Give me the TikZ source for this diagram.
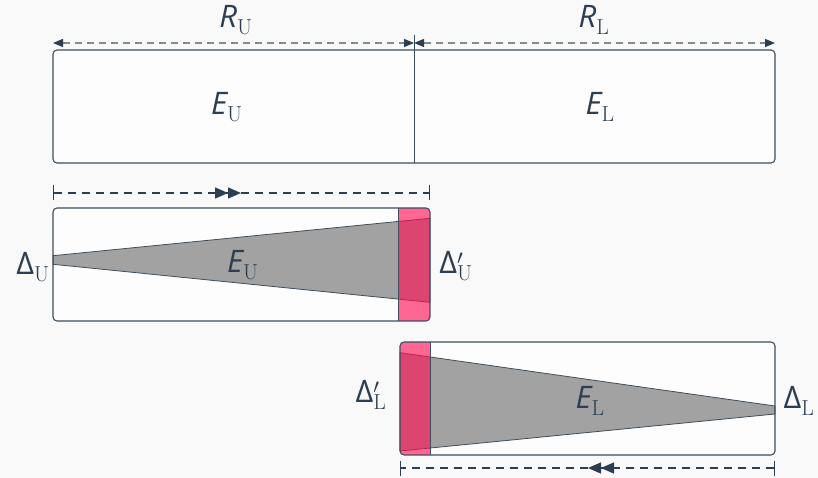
\documentclass[tikz,border=0pt]{standalone}
\usepackage{fontspec}
\newfontfamily\osans{Open Sans}
\usetikzlibrary{arrows.meta}
\definecolor{bgc}{HTML}{F9F9F9}
\definecolor{ink}{HTML}{2C3E50}
\definecolor{edge}{HTML}{3D4F5C}
\definecolor{dgray}{HTML}{7F8C8D}
\definecolor{pinkc}{RGB}{255,12,80}
\definecolor{trig}{HTML}{A2A2A2}
\newcommand{\lbl}[2]{{\osans\itshape #1}$_{\mathrm{#2}}$}
\newcommand{\dlt}[2]{{\osans Δ}$#1_{\mathrm{#2}}$}
\tikzset{
  box/.style={draw=edge, line width=1.1pt, rounded corners=4pt, fill=white!60!bgc},
  tri/.style={fill=trig, draw=edge, line width=0.8pt},
  pinkbar/.style={fill=pinkc, fill opacity=0.62},
  sep/.style={draw=edge, line width=1pt},
  rdim/.style={dgray, dash pattern=on 7pt off 5pt, line width=1.3pt},
  mdim/.style={ink, dash pattern=on 8pt off 6pt, line width=1.3pt},
  txt/.style={text=ink, font=\fontsize{31}{36}\selectfont, inner sep=0pt},
}
\begin{document}
\begin{tikzpicture}[x=1pt,y=-1pt]
\useasboundingbox[fill=bgc] (0,0) rectangle (818,478);
% ---------- top box ----------
\draw[box] (53,50) rectangle (775,163);
\coordinate (tl) at (53,43);
\coordinate (tm) at (414,43);
\coordinate (tr) at (775,43);
\coordinate (dvtop) at (414,35);
\coordinate (dvbot) at (414,163);
\draw[sep] (dvtop) -- (dvbot);
\draw[rdim, {Triangle[length=10pt,width=8pt,fill=ink,color=ink]}-{Triangle[length=10pt,width=8pt,fill=ink,color=ink]}] (tl) -- (tm);
\draw[rdim, {Triangle[length=10pt,width=8pt,fill=ink,color=ink]}-{Triangle[length=10pt,width=8pt,fill=ink,color=ink]}] (tm) -- (tr);
\node[txt] (RU) at (236,20) {\lbl{R}{U}};
\node[txt] (RL) at (594,20) {\lbl{R}{L}};
\node[txt] (EU1) at (227,107) {\lbl{E}{U}};
\node[txt] (EL1) at (600,107) {\lbl{E}{L}};
% ---------- middle box ----------
\fill[white!60!bgc, rounded corners=4pt] (53,208) rectangle (430,321);
\draw[tri] (53,255.7) -- (430,218.3) -- (430,302.3) -- (53,264.3) -- cycle;
\begin{scope}
  \clip[rounded corners=4pt] (53,208) rectangle (430,321);
  \fill[pinkbar] (398,208) rectangle (430,321);
\end{scope}
\draw[sep] (398,208) -- (398,321);
\draw[box, fill=none] (53,208) rectangle (430,321);
\coordinate (ml) at (53,193);
\coordinate (mm) at (241,193);
\coordinate (mr) at (430,193);
\draw[mdim, {Bar[width=15pt]}-{Triangle[length=13pt,width=11pt,fill=ink,color=ink]Triangle[length=13pt,width=11pt,fill=ink,color=ink]}] (ml) -- (mm);
\draw[mdim, -{Bar[width=15pt]}] (mm) -- (mr);
\node[txt] (DU) at (33,267) {\dlt{}{U}};
\node[txt] (DUp) at (456,266) {\dlt{'}{U}};
\node[txt] (EU2) at (243,265) {\lbl{E}{U}};
% ---------- bottom box ----------
\fill[white!60!bgc, rounded corners=4pt] (400,342) rectangle (775,455);
\draw[tri] (400,352.7) -- (775,406) -- (775,414) -- (400,451) -- cycle;
\begin{scope}
  \clip[rounded corners=4pt] (400,342) rectangle (775,455);
  \fill[pinkbar] (400,342) rectangle (430,455);
\end{scope}
\draw[sep] (430,342) -- (430,455);
\draw[box, fill=none] (400,342) rectangle (775,455);
\coordinate (bl) at (400,468);
\coordinate (bm) at (588,468);
\coordinate (br) at (775,468);
\draw[mdim, {Bar[width=15pt]}-{Triangle[length=13pt,width=11pt,fill=ink,color=ink]Triangle[length=13pt,width=11pt,fill=ink,color=ink]}] (br) -- (bm);
\draw[mdim, -{Bar[width=15pt]}] (bm) -- (bl);
\node[txt] (DLp) at (371,395) {\dlt{'}{L}};
\node[txt] (DL) at (799,401) {\dlt{}{L}};
\node[txt] (EL2) at (590,401) {\lbl{E}{L}};
\end{tikzpicture}
\end{document}
